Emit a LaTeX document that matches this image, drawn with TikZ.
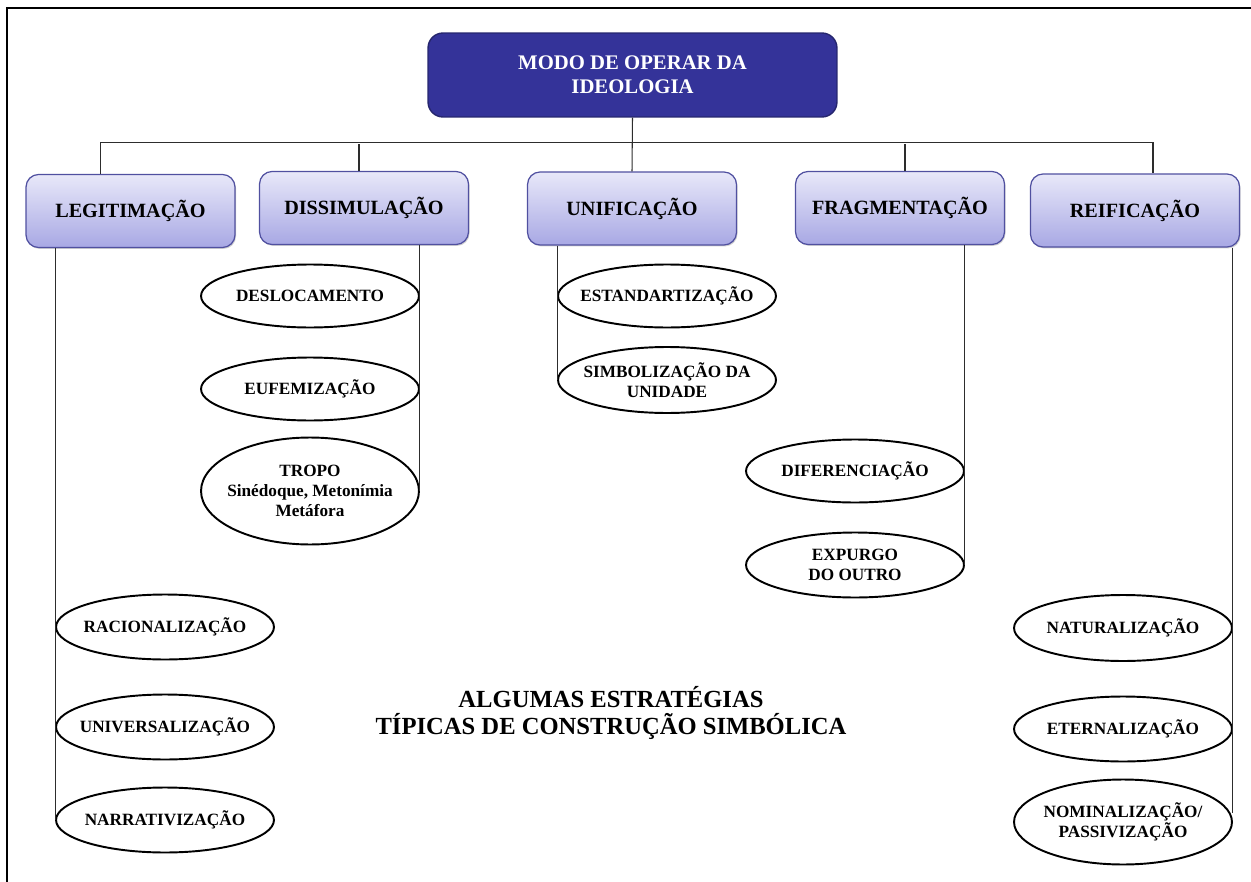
\documentclass[tikz,border=0pt]{standalone}
\usepackage{fontspec}
\setmainfont{Liberation Serif}
\usetikzlibrary{shapes.geometric, calc, shadows}

\definecolor{rootblue}{RGB}{52,51,153}
\definecolor{rootedge}{RGB}{38,38,110}
\definecolor{boxtop}{RGB}{232,232,249}
\definecolor{boxbottom}{RGB}{168,168,228}
\definecolor{boxedge}{RGB}{80,80,160}
\definecolor{linkgray}{RGB}{45,45,45}

\begin{document}
\begin{tikzpicture}[x=0.02cm, y=-0.02cm,
    root/.style = {draw=rootedge, line width=0.8pt, fill=rootblue, rounded corners=0.3cm,
        minimum width=8.18cm, minimum height=1.68cm, text=white, align=center,
        font=\fontsize{11.8}{13.6}\selectfont\bfseries},
    branch/.style = {draw=boxedge, line width=0.7pt, top color=boxtop, bottom color=boxbottom,
        rounded corners=0.25cm, minimum width=4.18cm, minimum height=1.46cm,
        font=\fontsize{11.5}{13}\selectfont\bfseries,
        drop shadow={shadow xshift=0.6pt, shadow yshift=-0.8pt, opacity=0.3, fill=black!60}},
    leaf/.style = {draw, ellipse, line width=1.1pt, inner xsep=-12pt, inner ysep=0pt, align=center,
        minimum width=4.36cm, minimum height=1.26cm,
        font=\fontsize{9.8}{11.3}\selectfont\bfseries},
    link/.style = {draw=linkgray, line width=0.6pt}]
    \useasboundingbox (0,0) rectangle (1251,882);
    \draw[line width=1.3pt] (7,882) -- (7,8) -- (1251,8);

    % top
    \node[root] (modo) at (632.5,75) {MODO DE OPERAR DA\\IDEOLOGIA};

    % strategies
    \node[branch] (legit) at (130.5,211) {LEGITIMAÇÃO};
    \node[branch] (dissim) at (364,208) {DISSIMULAÇÃO};
    \node[branch] (unif) at (632,208.5) {UNIFICAÇÃO};
    \node[branch] (frag) at (900,208) {FRAGMENTAÇÃO};
    \node[branch] (reif) at (1135,210.5) {REIFICAÇÃO};

    % modes
    \node[leaf] (desloc) at (310,296) {DESLOCAMENTO};
    \node[leaf] (eufem) at (310,389) {EUFEMIZAÇÃO};
    \node[leaf, minimum height=2.14cm] (tropo) at (310,491) {TROPO\\Sinédoque, Metonímia\\Metáfora};
    \node[leaf] (estand) at (667,296) {ESTANDARTIZAÇÃO};
    \node[leaf, minimum height=1.32cm] (simb) at (667,380) {SIMBOLIZAÇÃO DA\\UNIDADE};
    \node[leaf] (difer) at (855,471) {DIFERENCIAÇÃO};
    \node[leaf, minimum height=1.3cm] (expurgo) at (855,565) {EXPURGO\\DO OUTRO};
    \node[leaf, minimum height=1.3cm] (racion) at (165,627) {RACIONALIZAÇÃO};
    \node[leaf, minimum height=1.3cm] (univ) at (165,727) {UNIVERSALIZAÇÃO};
    \node[leaf, minimum height=1.3cm] (narr) at (165,820) {NARRATIVIZAÇÃO};
    \node[leaf, minimum height=1.32cm] (natur) at (1123,628) {NATURALIZAÇÃO};
    \node[leaf, minimum height=1.3cm] (etern) at (1123,729) {ETERNALIZAÇÃO};
    \node[leaf, minimum height=1.7cm] (nomin) at (1123,822) {NOMINALIZAÇÃO/\\PASSIVIZAÇÃO};

    \node[align=center, font=\fontsize{14}{15.9}\selectfont\bfseries] (titulo) at (611,713)
        {ALGUMAS ESTRATÉGIAS\\TÍPICAS DE CONSTRUÇÃO SIMBÓLICA};

    % connectors
    \draw[link] (modo.south) -- (unif.north);
    \draw[link] ($(legit.north)+(-30,0)$) -- ++(0,-31) -| ($(reif.north)+(18,0)$);
    \draw[link] ($(dissim.north)+(-5,0)$) -- ++(0,-27);
    \draw[link] ($(frag.north)+(5,0)$) -- ++(0,-27);
    \draw[link] (narr.west |- legit.south) -- (narr.west);
    \draw[link] (tropo.east |- dissim.south) -- (tropo.east);
    \draw[link] (simb.west |- unif.south) -- (simb.west);
    \draw[link] (expurgo.east |- frag.south) -- (expurgo.east);
    \draw[link] (nomin.east |- reif.south) -- ($(nomin.east)+(0,-9)$);
\end{tikzpicture}
\end{document}
